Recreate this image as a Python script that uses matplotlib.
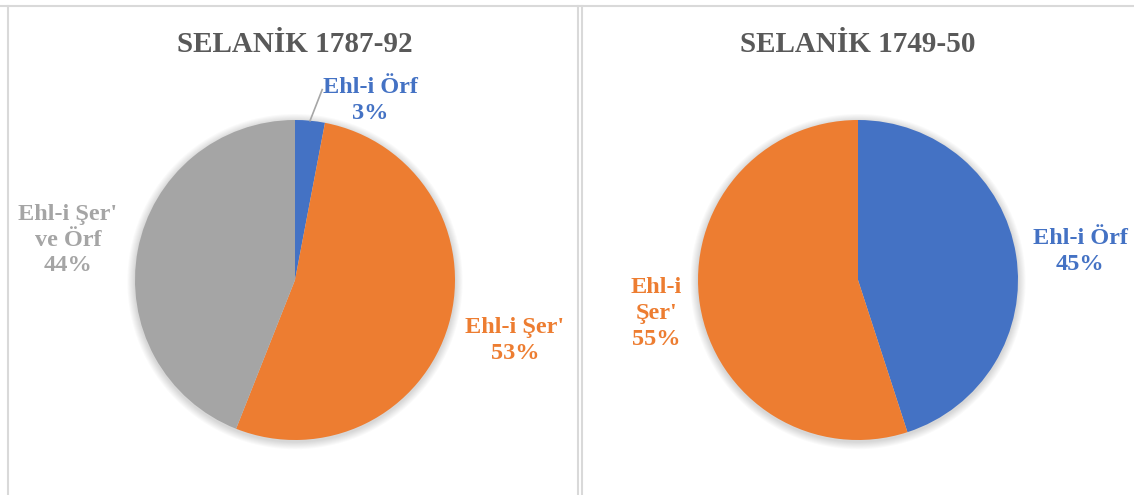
import numpy as np
import matplotlib.pyplot as plt
from matplotlib.patches import Circle

plt.rcParams['font.family'] = ['Liberation Serif', 'DejaVu Serif']

# ====================== data ======================
titles = ["SELANİK 1787-92", "SELANİK 1749-50"]

cats_1 = ["Ehl-i Örf", "Ehl-i Şer'", "Ehl-i Şer' ve Örf"]
vals_1 = [3, 53, 44]
text_1 = ["Ehl-i Örf", "Ehl-i Şer'", "Ehl-i Şer'\nve Örf"]

cats_2 = ["Ehl-i Örf", "Ehl-i Şer'"]
vals_2 = [45, 55]
text_2 = ["Ehl-i Örf", "Ehl-i\nŞer'"]

colors_1 = ["#4472C4", "#ED7D31", "#A5A5A5"]
colors_2 = ["#4472C4", "#ED7D31"]

# ====================== layout (pixels) ======================
W, H = 1134, 495
R = 160                       # pie radius in px
centers = [(295, 280), (858, 280)]
boxes = [(8, 578), (581, 1134)]   # x-range of each panel

# label positions in pie units (radius = 1)
lab_pos_1 = [(0.47, 1.12), (1.375, -0.38), (-1.42, 0.25)]
lab_pos_2 = [(1.39, 0.18), (-1.26, -0.21)]

fig = plt.figure(figsize=(W / 100, H / 100), dpi=100)

# panel borders
border = "#D9D9D9"
fig.add_artist(plt.Line2D([0, 1], [1 - 6 / H, 1 - 6 / H], color=border, lw=1.5))
for x in [8, 578, 582]:
    fig.add_artist(plt.Line2D([x / W, x / W], [0, 1 - 6 / H], color=border, lw=1.5))


def draw_pie(k, vals, colors, texts, lab_pos):
    cx, cy = centers[k]
    x0, x1 = boxes[k]
    ax = fig.add_axes([x0 / W, 0, (x1 - x0) / W, (H - 8) / H])
    ax.axis('off')

    # soft shadow
    for i in range(8):
        ax.add_patch(Circle((0.0, -0.01), 1 + 0.006 * (i + 1), color='black',
                            alpha=0.018, lw=0, zorder=0))

    wedges, _ = ax.pie(vals, colors=colors, startangle=90, counterclock=False,
                       radius=1, wedgeprops=dict(linewidth=0))
    for w in wedges:
        w.set_zorder(2)

    ax.set_aspect('auto')
    ax.set_xlim((x0 - cx) / R, (x1 - cx) / R)
    ax.set_ylim((cy - H) / R, (cy - 8) / R)

    total = sum(vals)
    for v, c, t, (lx, ly) in zip(vals, colors, texts, lab_pos):
        pct = f"{round(100 * v / total)}%"
        ax.text(lx, ly, t + "\n" + pct, color=c, fontsize=17.5, fontweight='bold',
                ha='center', va='center', multialignment='center', linespacing=1.3,
                zorder=3)

    ax.text(0, (cy - 45) / R, titles[k], color="#595959", fontsize=21,
            fontweight='bold', ha='center', va='center')
    return ax, wedges


ax1, w1 = draw_pie(0, vals_1, colors_1, text_1, lab_pos_1)
ax2, w2 = draw_pie(1, vals_2, colors_2, text_2, lab_pos_2)

# leader line for the small slice
a = np.deg2rad(90 - 360 * vals_1[0] / sum(vals_1) / 2)
ax1.plot([np.cos(a), 0.17], [np.sin(a), 1.19], color="#A6A6A6", lw=1.2, zorder=3)

plt.savefig("out.png", dpi=100)
plt.close()
